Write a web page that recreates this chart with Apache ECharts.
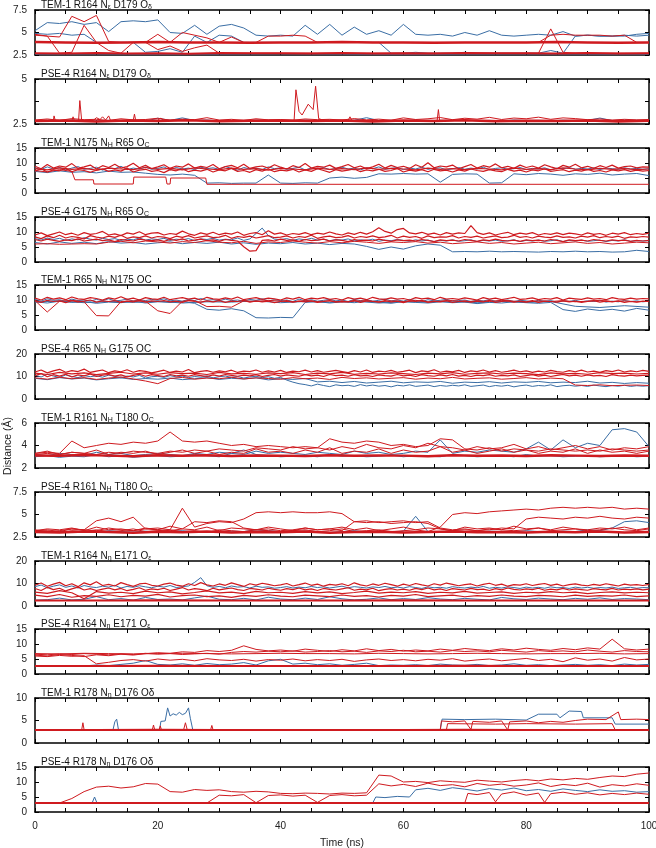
<!DOCTYPE html>
<html><head><meta charset="utf-8">
<script src="https://cdn.jsdelivr.net/npm/echarts@6/dist/echarts.min.js"></script>
<style>html,body{margin:0;padding:0;background:#fff}#c{width:656px;height:848px}</style>
</head><body><div id="c"></div>
<script>
// ---------- data (distances in Å; plain arrays are evenly sampled over 0–100 ns, pair arrays are [ns, Å]) ----------
const TIME_MAX = 100;
const X_LABELS = [0, 20, 40, 60, 80, 100];
const TITLES = [
  'TEM-1 R164 N{s|ε} D179 O{s|δ}', 'PSE-4 R164 N{s|ε} D179 O{s|δ}',
  'TEM-1 N175 N{s|H} R65 O{s|C}', 'PSE-4 G175 N{s|H} R65 O{s|C}',
  'TEM-1 R65 N{s|H} N175 OC', 'PSE-4 R65 N{s|H} G175 OC',
  'TEM-1 R161 N{s|H} T180 O{s|C}', 'PSE-4 R161 N{s|H} T180 O{s|C}',
  'TEM-1 R164 N{s|η} E171 O{s|ε}', 'PSE-4 R164 N{s|η} E171 O{s|ε}',
  'TEM-1 R178 N{s|η} D176 Oδ', 'PSE-4 R178 N{s|η} D176 Oδ'
];
const Y_MIN = [2.5, 2.5, 0, 0, 0, 0, 2, 2.5, 0, 0, 0, 0];
const Y_MAX = [7.5, 5, 15, 15, 15, 20, 6, 7.5, 20, 15, 10, 15];
const Y_TICK = [2.5, 1.25, 5, 5, 5, 10, 2, 2.5, 10, 5, 5, 5];
const Y_LABELS = [[2.5,5,7.5],[2.5,5],[0,5,10,15],[0,5,10,15],[0,5,10,15],[0,10,20],[2,4,6],[2.5,5,7.5],[0,10,20],[0,5,10,15],[0,5,10],[0,5,10,15]];

// panel 1
const p1_b1 = [5.2,6.1,6.0,6.2,5.9,6.1,5.1,6.2,6.3,6.2, 6.4,5.0,4.9,5.8,4.8,5.7,5.9,5.5,4.7,4.6, 4.7,4.6,5.8,4.8,5.9,4.7,5.6,4.8,5.2,4.7, 5.9,4.8,4.7,4.8,4.6,5.0,4.7,5.2,4.7,4.6, 4.7,4.8,4.7,5.1,4.6,4.7,4.6,4.6,4.6,4.8, 4.9];
const p1_b2 = [4.9,4.8,4.9,4.7,4.8,3.9,3.9,3.9,3.9,2.8, 2.9,3.2,2.8,4.6,3.9,4.7,4.6,3.9,3.9,3.9, 3.9,3.9,3.9,3.9,3.9,3.9,3.9,3.9,3.9,2.7, 2.7,2.8,2.7,2.7,2.7,2.8,2.7,2.7,2.7,2.7, 2.7,2.7,3.0,2.7,4.6,4.7,4.6,4.6,4.7,4.6, 4.7];
const p1_b3 = [2.6,2.62,2.58,2.6,2.63,2.6,2.57,2.6,2.62,2.6,2.59];
const p1_r1 = [3.95,3.9,3.85,3.9,3.95,3.9,3.9,3.85,3.9,3.9,3.95,3.9,3.9,3.85,3.9,3.9,3.9,3.95,3.9,3.85,3.9];
const p1_r2 = [2.7,2.66,2.72,2.68,2.7,2.65,2.71,2.69,2.7,2.66,2.72,2.68,2.7,2.67,2.71,2.69,2.7,2.66,2.72,2.68,2.7];
const p1_r3 = [4.8,4.6,4.5,6.8,6.2,6.9,4.0,3.9,3.9,3.9, 4.8,3.9,5.0,4.7,4.4,3.9,4.5,3.9,3.9,4.6, 4.6,4.7,4.6,3.9,3.9,3.9,3.9,3.9,3.9,3.9, 3.9,3.9,3.9,3.9,3.9,3.9,3.9,3.9,3.9,3.9, 3.9,3.9,4.7,4.8,4.7,4.7,4.7,4.6,4.7,3.9, 3.9];
const p1_r4 = [4.7,4.6,2.7,2.8,5.8,3.9,3.0,2.7,3.9,3.9, 3.1,3.5,2.9,3.3,3.6,2.7,2.7,2.7,2.7,2.7, 2.7,2.7,2.7,2.7,2.7,2.7,2.7,2.7,2.7,2.7, 2.7,2.7,2.7,2.7,2.7,2.7,2.7,2.7,2.7,2.7, 2.7,2.7,5.4,2.8,2.7,2.7,2.7,2.7,2.7,2.7, 2.7];
// panel 2
const p2_b1 = [2.68,2.7,2.66,2.72,2.69,2.67,2.7,2.68,2.71,2.66, 2.82,2.7,2.84,2.69,2.72,2.67,2.7,2.68,2.71,2.69, 2.7,2.67,2.72,2.68,2.7,2.66,2.71,2.85,2.69,2.7, 2.68,2.72,2.67,2.7,2.69,2.71,2.68,2.7,2.66,2.72, 2.69,2.7,2.67,2.71,2.68,2.7,2.83,2.69,2.72,2.7, 2.68];
const p2_r1 = [2.66,2.7,2.64,2.69,2.67,2.71,2.65,2.68,2.7,2.66,2.69,2.64,2.7,2.67,2.71,2.65,2.68,2.66,2.7,2.64,2.68];
const p2_r2 = [2.72,2.78,2.7,2.8,2.74,2.76,2.7,2.79,2.73,2.75, 2.82,2.71,2.77,2.74,2.85,2.72,2.76,2.7,2.79,2.73, 2.75,2.71,2.78,2.74,2.76,2.72,2.8,2.73,2.77,2.71, 2.84,2.75,2.79,2.86,2.74,2.82,2.77,2.87,2.75,2.83, 2.79,2.88,2.76,2.84,2.8,2.74,2.78,2.72,2.76,2.73, 2.75];
const p2_spikes = [[0,2.7],[3,2.7],[3.1,2.95],[3.3,2.7],[6,2.7],[6.2,2.9],[6.4,2.7],[7.1,2.7],[7.3,3.8],[7.6,2.7],[9.5,2.7],[10,2.85],[10.6,2.75],[11,2.9],[11.5,2.72],[12,2.95],[12.3,2.7],[16,2.7],[16.2,3.05],[16.4,2.7],[20,2.72],[20.5,2.82],[21,2.7],[42.2,2.7],[42.5,4.4],[43,3.2],[43.5,3.0],[44.5,3.6],[45.3,3.3],[45.7,4.6],[46.2,2.8],[47,2.7],[51,2.7],[51.3,2.9],[51.6,2.7],[65.5,2.7],[65.7,3.3],[65.9,2.7],[100,2.7]];
// panel 3
const p3_b1 = [8.4,7.8,8.7,8.0,8.5,7.7,8.3,8.8,7.9,8.2, 8.6,7.6,8.4,8.1,8.9,7.8,8.3,8.0,8.6,7.9, 8.2,8.7,7.7,8.5,8.0,8.3,7.8,8.6,8.1,8.4, 7.9,8.8,8.2,7.6,8.5,8.0,8.3,7.8,8.7,8.1, 8.4,7.9,8.2,8.6,7.7,8.3,8.0,8.5,7.8,8.2, 8.6,8.0,8.3,7.7,8.4,8.1,8.7,7.9,8.2,8.5, 7.8,8.3,8.0,8.6,7.9,8.2,8.4,7.7,8.1,8.5, 7.9,8.3,8.0,8.6,7.8,8.2,8.4,7.9,8.1,8.5, 7.8,8.2,8.0,8.4,7.7,8.3,8.1,8.5,7.9,8.2, 8.0,8.4,7.8,8.3,8.1,7.9,8.4,8.0,8.2,7.9, 8.1];
const p3_b2 = [7.2,6.8,7.4,6.9,7.1,6.7,7.3,6.9,7.0,6.6, 6.2,6.0,6.3,5.9,3.3,3.4,3.2,3.3,3.3,6.0, 3.3,3.2,3.4,3.3,5.0,5.3,4.9,5.2,6.4,6.3, 6.5,6.3,6.4,3.6,6.2,6.4,6.3,3.3,3.4,6.4, 6.1,6.5,6.3,5.9,6.4,6.2,6.6,6.0,6.3,6.5, 5.8];
const p3_r1 = [8.9,8.1,9.5,8.3,9.0,8.6,9.8,8.2,8.7,9.3, 8.0,9.1,8.5,9.6,8.3,8.8,9.9,8.4,9.2,8.1, 8.7,9.4,8.2,9.0,8.6,9.7,8.3,8.9,8.5,9.5, 8.1,8.8,9.2,8.4,9.6,8.2,8.7,9.0,8.3,9.4, 8.6,8.0,9.1,8.5,9.8,8.3,8.9,8.6,9.3,8.2, 8.8,9.5,8.4,9.0,8.1,8.7,9.6,8.3,9.2,8.5, 8.9,8.2,9.4,8.6,10.1,8.4,9.0,8.7,9.3,8.1, 8.8,9.5,8.3,9.1,8.6,9.7,8.4,8.9,8.2,9.3, 8.5,9.0,8.3,9.4,8.7,8.1,9.2,8.6,9.6,8.4, 8.9,8.2,9.1,8.5,9.3,8.3,8.8,9.0,8.4,8.7, 8.6];
const p3_r2 = [7.3,8.1,7.0,7.7,7.4,8.2,7.1,7.8,7.5,6.9, 7.6,8.0,7.2,7.7,7.3,8.3,7.0,7.6,7.9,7.2, 7.5,6.8,7.8,7.4,8.1,7.1,7.6,7.3,7.9,7.0, 7.7,7.4,8.2,7.2,7.5,6.9,7.8,7.3,8.0,7.1, 7.6,7.4,7.9,7.0,7.7,7.2,8.1,7.5,6.9,7.8, 7.3,7.6,8.0,7.1,7.7,7.4,7.9,7.2,7.5,8.2, 7.0,7.6,7.3,7.8,7.1,7.9,7.4,7.6,7.0,7.7, 7.3,8.0,7.5,7.2,7.8,7.4,7.1,7.9,7.3,7.6, 7.0,7.7,7.4,8.1,7.2,7.5,7.8,7.1,7.6,7.3, 7.9,7.2,7.5,7.0,7.7,7.4,7.8,7.2,7.6,7.3, 7.5];
const p3_r3 = [8.1,7.7,8.4,7.9,8.2,7.6,8.3,8.0,7.8,8.5, 7.9,8.2,7.7,8.4,8.0,7.8,8.3,7.9,8.1,7.6, 8.2,8.0,7.7,8.3,7.9,8.1,7.8,8.4,7.9,8.2, 8.0,7.7,8.3,7.9,8.1,7.8,8.2,8.0,7.7,8.3, 7.9,8.1,7.8,8.4,8.0,7.7,8.2,7.9,8.1,7.8, 8.0];
const p3_r_low = [[0,7.5],[2,7.0],[4,7.8],[6,7.2],[6.5,4.4],[9.5,4.4],[9.6,3.0],[16,3.0],[16.1,5.3],[21.3,5.3],[21.5,3.0],[22,3.0],[22.1,5.0],[27.8,5.0],[28,2.9],[100,2.9]];
// panel 4
const p4_b1 = [7.8,7.3,8.0,7.5,7.9,7.2,7.7,7.4,8.1,7.6, 7.3,7.9,7.5,7.8,7.2,7.6,7.4,8.0,7.3,7.7, 7.5,7.9,7.2,7.6,7.4,7.8,7.1,7.7,7.5,7.9, 7.3,7.6,7.4,8.0,7.2,7.7,9.5,11.3,8.8,7.6, 7.5,7.8,7.2,7.7,7.4,7.9,7.3,7.6,7.1,7.5, 7.3,7.7,7.0,7.4,7.2,7.6,6.9,7.3,7.1,7.5, 7.2,6.9,7.4,7.0,7.3,6.8,7.2,7.0,7.4,6.9, 7.1,7.4,6.8,7.2,7.0,7.3,6.9,7.1,7.4,6.8, 7.2,7.0,7.3,6.9,7.1,7.4,6.8,7.2,7.0,7.3, 6.9,7.1,7.3,6.8,7.2,7.0,7.4,6.9,7.1,7.0, 7.1];
const p4_b2 = [6.5,6.0,6.7,6.2,6.6,6.1,6.8,6.3,6.5,6.0, 6.4,6.7,6.1,6.5,6.2,6.6,6.0,6.4,5.9,6.3, 6.1,6.5,6.0,6.3,5.8,6.2,6.0,5.2,4.2,5.0, 4.3,5.4,6.0,5.6,3.4,3.5,3.4,3.6,3.4,3.5, 3.4,3.3,3.5,3.4,3.6,3.4,3.5,3.3,3.4,3.9, 3.5];
const p4_r1 = [9.0,9.7,8.8,9.4,10.0,9.1,9.6,8.9,9.8,9.2, 9.5,10.2,9.0,9.4,8.8,9.7,9.3,10.1,9.1,9.6, 9.8,9.0,9.5,9.2,10.3,9.4,8.9,9.7,9.2,9.9, 9.1,9.6,9.3,10.0,8.9,9.5,9.8,9.1,10.4,9.3, 9.7,9.0,9.5,9.2,9.8,9.1,9.6,9.3,10.0,9.4, 9.0,9.7,9.2,9.9,9.3,10.1,11.4,10.2,9.6,10.8, 11.2,9.7,9.4,9.9,9.2,9.6,9.0,9.8,9.3,9.7, 9.5,12.1,9.8,9.2,9.7,9.0,9.5,9.9,9.1,9.6, 9.3,9.8,9.0,9.5,9.2,9.7,9.1,9.6,9.4,9.0, 9.7,9.2,9.5,8.9,9.6,9.3,9.8,9.1,9.5,9.2, 9.6];
const p4_r2 = [8.4,7.8,8.7,8.1,8.9,8.0,8.5,8.2,7.7,8.8, 8.3,8.0,8.6,8.2,8.9,7.9,8.4,8.1,8.7,8.0, 8.5,8.3,7.8,8.6,8.2,8.8,8.0,8.4,8.7,8.1, 8.3,8.9,7.9,8.5,8.2,8.6,8.0,8.4,8.8,8.1, 8.3,8.7,8.0,8.5,8.2,8.9,7.9,8.4,8.6,8.1, 8.3,8.8,8.0,8.5,8.2,8.7,8.1,8.4,8.9,8.0, 8.6,8.2,8.5,7.9,8.7,8.1,8.4,8.3,8.8,8.0, 8.5,8.2,8.6,8.0,8.4,8.7,8.1,8.3,8.9,8.2, 8.5,8.0,8.6,8.3,8.1,8.7,8.2,8.4,8.0,8.6, 8.3,8.8,8.1,8.5,8.2,8.6,7.9,8.4,8.2,8.5, 8.3];
const p4_r3 = [7.5,7.0,7.6,7.2,6.9,7.4,7.1,7.7,7.0,7.3, 7.6,7.1,7.4,6.8,7.5,7.2,7.0,7.6,7.3,7.1, 7.4,6.9,7.5,7.2,7.7,7.0,7.3,7.6,7.1,7.4, 6.9,7.5,7.2,7.0,5.1,3.6,3.8,7.2,7.4,7.0, 7.6,7.2,7.4,6.9,7.5,7.1,7.3,7.6,7.0,7.4, 7.2,6.8,7.5,7.1,7.3,7.0,7.6,7.2,6.9,7.4, 7.1,7.3,7.0,7.5,7.2,6.8,7.4,7.1,7.3,7.0, 7.5,7.2,6.9,7.4,7.1,7.6,7.2,7.0,7.3,6.9, 7.4,7.1,7.3,7.0,7.5,7.2,6.8,7.4,7.1,7.3, 7.0,7.5,7.2,7.0,7.4,7.1,7.3,6.9,7.2,7.0, 7.2];
const p4_r4 = [6.0,6.1,5.9,6.0,6.1,6.0,6.6,6.9,6.4,7.0, 6.7,6.3,6.8,6.5,7.1,6.6,6.4,6.9,6.2,6.7, 6.5,7.0,6.6,6.3,6.8,6.4,6.9,6.6,6.2,6.7, 6.5,6.8,6.3,6.6,6.1,6.4,6.7,6.2,6.5,6.0, 6.3,6.6,6.1,6.4,6.7,6.2,6.5,6.0,6.3,6.6, 6.4];
// panel 5
const p5_b1 = [10.2,9.6,10.4,9.9,10.1,9.5,10.3,9.8,10.0,9.6, 10.2,9.8,10.4,9.7,9.9,10.3,9.6,10.1,9.8,10.2, 9.9,10.4,9.7,10.0,9.6,10.2,9.8,10.5,9.9,10.1, 9.7,10.3,9.8,10.0,9.6,10.2,9.9,10.4,9.7,10.1, 9.8,10.0,9.5,10.3,9.7,10.1,9.6,9.9,10.2,9.7, 10.0,9.5,10.2,9.8,10.1,9.6,9.9,10.3,9.7,10.0, 9.6,10.2,9.8,9.5,10.1,9.7,9.9,10.2,9.6,9.8, 10.0,9.5,9.9,9.7,10.1,9.6,9.8,10.0,9.5,9.9, 9.7,9.4,9.9,9.6,9.8,9.3,9.7,9.5,9.9,9.4, 9.7,9.5,9.8,9.3,9.6,9.4,9.8,9.5,9.7,9.4, 9.6];
const p5_b2 = [9.4,9.0,9.6,9.2,9.5,8.9,9.3,9.1,9.6,9.0, 9.4,9.2,9.5,8.9,6.9,6.6,7.1,6.4,4.1,4.0, 4.2,4.1,9.2,9.5,9.0,9.4,9.1,9.6,9.3,8.9, 9.5,9.2,9.0,9.4,9.1,9.3,8.8,9.2,9.0,9.4, 9.1,8.9,9.2,6.8,6.2,7.0,6.5,6.9,6.3,7.2, 6.6];
const p5_b3 = [9.3,9.7,9.1,9.5,9.2,9.6,9.0,9.4,9.3,9.7,9.1,9.5,9.2,9.6,9.0,9.4,9.3,9.7,9.1,9.5,9.2,9.5,7.9,7.5,8.1,7.6];
const p5_r1 = [10.6,10.0,10.9,10.3,10.7,10.1,11.0,10.4,10.2,10.8, 10.5,10.0,10.7,10.3,11.1,10.2,10.6,10.0,10.8,10.4, 10.2,10.9,10.1,10.5,10.8,10.3,10.6,10.0,10.9,10.4, 10.2,10.7,10.3,11.0,10.1,10.5,10.8,10.2,10.6,10.4, 10.0,10.7,10.3,10.9,10.1,10.6,10.4,10.8,10.2,10.5, 10.0,10.8,10.3,10.6,10.1,10.9,10.4,10.2,10.7,10.3, 10.5,10.0,10.8,10.4,10.6,10.1,10.9,10.3,10.5,10.2, 10.7,10.4,10.0,10.8,10.3,10.6,10.1,10.5,10.9,10.2, 10.4,10.7,10.1,10.5,10.3,10.8,10.0,10.6,10.4,10.2, 10.7,10.3,10.5,10.1,10.8,10.4,10.2,10.6,10.3,10.5, 10.4];
const p5_r2 = [9.8,9.2,9.9,9.5,9.7,9.1,9.8,9.4,9.6,10.0, 9.3,9.7,9.5,9.8,9.2,9.6,9.4,9.9,9.3,9.7, 9.5,9.8,9.4,9.6,9.2,9.9,9.5,9.3,9.7,9.4, 9.8,9.2,9.6,9.5,9.9,9.3,9.7,9.4,9.6,9.1, 9.5,9.8,9.3,9.6,9.4,9.7,9.2,9.5,9.8,9.3, 9.6,9.4,9.9,9.2,9.7,9.5,9.3,9.8,9.4,9.6, 9.1,9.7,9.5,9.9,9.3,9.6,9.4,9.8,9.2,9.5, 9.7,9.3,9.6,9.4,9.9,9.2,9.5,9.7,9.3,9.6, 9.4,9.8,9.2,9.6,9.5,9.3,9.7,9.4,9.6,9.2, 9.5,9.8,9.3,9.6,9.4,9.7,9.2,9.5,9.3,9.6, 9.5];
const p5_r_low = [9.8,6.0,9.6,9.9,9.4,4.8,4.7,9.5,9.7,9.6, 6.4,5.5,9.6,9.8,7.8,7.9,7.6,9.7,9.5,9.9, 9.6,9.4,9.8,9.5,9.7,9.3,9.6,9.8,9.4,9.7, 9.5,9.9,9.3,9.6,9.8,9.4,9.7,9.5,9.9,9.6, 9.3,9.7,9.5,9.8,9.4,9.6,9.9,9.5,9.7,9.4, 9.6];
// panel 6
const p6_b1 = [10.5,9.8,11.0,10.2,9.6,10.7,10.0,9.5,10.4,9.9, 10.3,9.7,10.6,10.1,9.4,10.2,9.8,10.5,9.3,9.9, 10.1,9.6,10.4,9.8,10.2,9.5,10.0,9.7,10.3,9.4, 9.9,10.2,9.6,10.0,9.3,9.8,10.1,9.5,9.9,9.2, 9.6,8.4,7.5,6.8,6.4,5.8,6.6,6.0,5.5,6.3, 5.9,6.1,5.6,6.4,5.8,6.2,5.7,6.0,5.4,6.1, 5.8,6.3,5.6,5.9,6.2,5.5,6.0,5.7,6.1,5.8, 6.3,5.6,5.9,6.2,5.5,6.0,5.7,6.1,5.4,5.9, 6.2,5.6,6.0,5.8,6.3,5.5,5.9,6.1,5.7,6.0, 5.6,6.2,5.8,5.5,6.0,5.7,6.1,5.6,5.9,5.7, 5.9];
const p6_b2 = [9.2,8.6,9.5,8.9,9.3,8.5,9.0,9.4,8.7,9.1, 8.8,9.3,8.6,9.0,9.5,8.7,9.2,8.9,9.4,8.5, 9.0,8.7,9.1,7.6,7.9,7.3,7.8,7.1,7.5,7.9, 7.2,7.6,7.4,7.8,7.0,7.5,7.3,7.7,7.1,7.6, 7.4,7.8,7.2,7.5,7.3,7.9,7.1,7.4,6.9,7.3, 7.0];
const p6_r1 = [12.0,12.9,11.6,12.5,13.2,11.9,12.6,12.2,13.3,11.8, 12.4,12.9,11.7,12.5,12.1,13.0,11.9,12.6,12.3,11.6, 12.2,12.8,11.8,12.4,12.0,13.1,11.7,12.3,12.6,11.9, 12.5,12.1,12.8,11.8,12.4,12.2,12.9,11.9,12.5,12.0, 12.7,11.8,12.4,12.1,12.8,12.0,12.6,11.9,12.3,12.7, 12.2,11.7,12.6,12.0,12.9,11.8,12.4,12.1,12.7,11.9, 12.3,12.8,11.7,12.5,12.2,13.0,11.9,12.4,12.1,12.7, 11.8,12.5,12.2,12.9,12.0,12.6,11.9,12.3,12.8,12.1, 12.5,11.8,12.4,12.0,12.7,12.2,11.9,12.6,12.1,12.8, 12.0,12.4,11.8,12.6,12.2,12.9,12.0,12.5,12.1,12.7, 12.3];
const p6_r2 = [10.4,11.3,9.9,10.8,10.2,11.0,9.8,10.7,10.3,11.1, 10.0,10.6,10.9,10.2,10.7,9.9,10.5,11.0,10.1,10.8, 10.4,10.0,10.9,10.3,10.6,10.1,10.8,10.4,10.0,10.7, 10.2,10.9,10.5,10.1,10.6,10.3,10.8,10.0,10.5,10.9, 10.2,10.7,10.4,10.1,10.8,10.3,10.6,10.0,10.9,10.4, 10.6,10.1,10.8,10.3,10.5,10.0,10.7,10.4,10.2,10.9, 10.3,10.6,10.0,10.8,10.4,10.1,10.7,10.3,10.9,10.2, 10.5,10.0,10.6,10.4,10.8,10.1,10.5,10.3,10.7,10.0, 10.4,10.8,10.2,10.6,10.0,10.5,10.9,10.3,10.6,10.1, 10.7,10.3,10.5,10.0,10.8,10.4,10.2,10.6,10.3,10.5, 10.6];
const p6_r3 = [9.4,8.8,9.7,9.0,9.5,8.7,9.3,9.8,8.9,8.0, 6.8,9.1,9.6,8.8,9.3,9.0,9.7,8.9,9.4,9.1, 8.8,9.5,9.0,9.3,8.7,9.6,9.1,9.4,8.9,9.2, 9.5,8.8,9.3,9.0,9.6,8.9,9.2,9.4,8.8,9.1, 9.5,8.9,9.3,9.0,6.2,6.0,6.3,5.9,6.1,6.2, 6.0];
const p6_r4 = [11.5,10.9,11.8,11.2,11.6,10.8,11.4,11.9,11.1,11.6, 11.0,11.7,11.3,11.5,10.9,11.8,11.2,11.4,11.0,11.6, 11.3,11.7,10.9,11.5,11.2,11.8,11.0,11.4,11.1,11.6, 11.3,10.9,11.5,11.2,11.7,11.0,11.4,11.6,11.1,11.5, 11.3,10.8,11.6,11.2,11.4,11.0,11.7,11.3,11.5,11.1, 11.4];
// panel 7
const p7_b1 = [3.0,3.1,2.95,3.05,3.0,3.2,3.0,3.1,2.95,3.05, 3.1,3.0,3.05,3.2,3.1,3.0,3.3,3.6,3.2,3.1, 3.0,3.05,3.1,3.0,3.2,3.05,3.1,3.0,3.05,3.15, 3.0,3.1,3.05,3.0,3.2,3.1,3.0,3.05,3.1,3.0, 3.2,3.05,3.1,3.0,3.05,3.1,3.0,3.05,3.1,3.0, 3.05];
const p7_b2 = [3.2,3.1,3.3,3.2,3.1,3.4,3.2,3.3,3.1,3.2, 3.3,3.2,3.1,3.3,3.2,3.4,3.3,3.2,3.5,3.3, 3.4,3.3,3.2,3.4,3.3,3.2,3.5,3.3,3.4,3.2, 3.3,3.5,3.4,4.5,3.3,3.5,3.4,3.6,3.5,3.4, 3.7,4.3,3.6,4.5,3.8,4.2,4.0,5.4,5.5,5.2, 3.9];
const p7_r_base = [3.12,3.08,3.15,3.1,3.05,3.13,3.09,3.14,3.07,3.11,3.1,3.06,3.13,3.08,3.12,3.1,3.05,3.14,3.09,3.11,3.07,3.13,3.1,3.06,3.12,3.09];
const p7_r2 = [3.3,3.5,3.2,3.4,3.3,3.6,3.2,3.4,3.3,3.5, 3.2,3.4,3.6,3.3,3.5,3.2,3.4,3.3,3.7,3.4, 3.5,3.3,3.6,3.4,3.8,3.3,3.5,3.4,3.7,3.3, 3.6,3.4,3.5,3.9,3.4,3.6,3.3,3.5,3.7,3.4, 3.6,3.3,3.5,3.4,3.7,3.3,3.6,3.4,3.5,3.3, 3.5];
const p7_r3 = [3.2,3.3,3.2,3.4,3.3,3.2,3.4,3.3,3.5,3.4, 3.3,3.5,3.4,3.6,3.5,3.7,3.6,3.5,3.8,3.7, 3.6,3.9,3.7,3.8,3.6,3.9,3.7,4.1,3.8,3.7, 4.0,3.8,4.2,3.9,3.8,3.6,3.9,3.7,3.8,4.1, 3.7,3.9,3.6,3.8,4.0,3.7,3.9,3.6,3.8,3.7, 3.9];
const p7_r_up = [3.3,3.4,3.3,4.4,3.8,4.0,4.2,4.1,4.3,4.2, 4.4,5.2,4.4,4.3,4.4,4.2,4.0,4.1,3.9,4.0, 3.9,3.8,3.9,3.8,4.6,4.3,4.2,4.4,4.3,4.0, 4.1,3.9,4.0,4.6,4.5,3.7,3.6,3.8,3.5,3.7, 3.6,3.5,3.7,3.6,3.5,3.6,3.5,3.7,3.6,3.5, 3.6];
// panel 8
const p8_b1 = [3.1,3.0,3.15,3.05,3.1,3.0,3.2,3.1,3.05,3.15, 3.0,3.1,3.2,3.05,3.1,3.0,3.15,3.1,3.3,3.2, 3.1,3.05,3.15,3.1,3.0,3.1,3.2,3.05,3.1,3.0, 3.15,4.8,3.1,3.05,3.2,3.1,3.0,3.15,3.1,3.05, 3.2,3.1,3.0,3.15,3.1,3.3,3.2,3.5,4.2,4.3, 4.1];
const p8_r_base = [3.05,3.0,3.1,3.05,2.98,3.08,3.02,3.1,3.0,3.06,3.03,3.1,2.98,3.05,3.08,3.0,3.06,3.1,3.02,3.05,3.0,3.08,3.04,3.1,3.0,3.06];
const p8_r2 = [3.2,3.4,3.3,3.5,3.2,3.6,3.3,3.4,3.2,3.5, 3.3,3.7,3.4,3.3,3.6,3.2,3.5,3.4,3.3,3.6, 3.4,3.2,3.5,3.3,3.4,3.6,3.3,3.5,3.2,3.4, 3.6,3.3,3.5,3.4,3.2,3.6,3.4,3.5,3.3,3.7, 3.4,3.5,3.3,3.6,3.4,3.3,3.5,3.4,3.6,3.3, 3.5];
const p8_rA = [3.2,3.3,3.1,3.4,3.3,4.3,4.6,4.2,4.7,3.4, 3.5,3.3,5.7,3.6,4.0,4.2,4.1,4.5,5.2,5.3, 5.2,5.3,5.2,5.2,5.3,5.1,4.2,4.1,4.2,4.0, 4.1,4.2,4.0,3.4,3.2,3.3,3.2,3.4,3.3,3.2, 3.3,3.5,3.2,3.3,3.4,3.2,3.3,3.5,3.3,3.2, 3.4];
const p8_rB = [3.1,3.2,3.0,3.2,3.1,3.3,3.1,3.2,3.4,3.1, 3.2,3.3,3.1,3.2,3.0,3.3,3.2,3.1,3.3,3.2, 3.1,3.2,3.3,3.1,3.2,3.4,3.1,3.2,3.3,3.1, 3.2,3.3,3.1,3.6,5.0,5.2,5.1,5.3,5.4,5.5, 5.6,5.5,5.7,5.8,5.7,5.8,5.7,5.8,5.6,5.7, 5.6];
const p8_rC = [3.3,3.1,3.2,3.4,3.3,3.2,3.5,3.3,3.2,3.4, 3.3,3.2,3.4,4.2,4.1,4.3,4.2,3.5,3.3,3.4, 3.2,3.3,3.5,3.3,3.4,3.2,4.2,4.3,4.1,4.2, 4.3,4.1,4.2,3.5,3.3,3.4,3.2,3.3,3.5,3.4, 4.5,4.7,4.6,4.5,4.7,4.6,4.8,4.6,4.5,4.7, 4.6];
// panel 9
const p9_b1 = [8.6,9.3,8.1,8.8,9.4,8.3,8.9,8.0,9.1,8.5, 8.2,8.8,8.4,9.2,8.0,8.7,8.3,9.0,8.5,8.1, 8.8,8.4,9.1,8.2,8.6,8.9,10.5,12.6,9.0,8.3, 8.7,8.1,8.9,8.4,8.6,8.0,8.8,8.3,8.5,7.9, 8.2,8.6,8.0,8.4,8.1,8.7,8.2,8.5,8.0,8.4, 8.8,8.1,8.6,8.3,8.0,8.5,8.2,8.7,8.1,8.4, 8.0,8.6,8.2,7.8,8.5,8.1,8.3,7.9,8.6,8.2, 8.0,8.4,8.1,8.7,7.9,8.3,8.0,8.5,8.2,7.8, 8.4,8.0,8.3,7.9,8.5,8.1,8.2,7.8,8.4,8.0, 8.3,7.9,8.2,8.0,8.4,7.8,8.1,8.3,7.9,8.2, 8.1];
const p9_b2 = [2.6,2.8,3.5,2.7,3.0,4.2,2.8,3.3,2.6,3.8, 2.9,3.1,2.7,3.6,4.4,3.0,2.8,3.4,2.7,3.9, 3.1,2.8,3.5,2.9,4.1,3.2,2.7,3.0,3.6,2.8, 3.3,2.9,3.7,3.1,2.8,3.4,3.0,2.7,3.8,3.2, 2.9,3.5,3.1,2.8,3.4,3.0,3.6,2.9,3.3,3.1, 2.8];
const p9_r_flat = [2.5,2.5,2.6,2.5,2.5,2.5,2.6,2.5,2.5,2.5,2.5];
const p9_r1 = [9.2,10.2,8.8,9.7,10.5,9.0,9.9,8.6,10.3,9.4, 10.8,9.1,9.6,8.9,10.4,9.5,8.7,9.8,10.1,9.2, 8.9,9.7,10.2,9.3,8.8,9.9,9.1,10.4,9.4,8.9, 9.8,9.2,10.3,9.5,8.7,9.9,9.3,10.1,9.6,9.0, 9.4,10.0,8.9,9.5,10.2,9.2,9.7,8.8,9.6,9.3, 9.9,9.0,10.3,9.4,8.9,9.8,9.2,10.1,9.5,8.8, 9.7,9.1,10.0,9.4,8.9,9.9,9.3,10.2,9.6,9.0, 9.5,9.8,8.9,9.6,10.1,9.2,9.7,8.8,9.5,9.3, 9.9,9.1,9.6,10.0,9.2,9.7,8.9,9.5,9.8,9.3, 9.0,9.6,9.2,9.9,9.4,8.9,9.7,9.3,9.5,9.1, 9.6];
const p9_r2 = [7.8,6.9,8.3,7.3,7.9,6.7,7.6,8.4,7.1,7.7, 6.9,7.5,8.0,7.2,7.8,6.8,7.4,8.1,7.0,7.6, 7.3,7.9,6.9,7.5,8.2,7.1,7.7,7.4,6.8,7.9, 7.2,7.6,8.0,7.3,6.9,7.8,7.5,7.1,7.9,7.4, 7.0,7.7,7.3,8.0,7.2,7.6,6.9,7.8,7.4,7.1, 7.6,8.1,7.0,7.5,7.2,7.9,6.8,7.4,7.7,7.1, 7.5,7.0,7.8,7.3,8.0,7.2,7.6,6.9,7.7,7.4, 7.1,7.8,7.3,7.5,6.9,7.7,7.2,8.0,7.4,7.1, 7.6,7.3,7.9,7.0,7.5,7.2,7.8,7.1,7.6,7.3, 7.0,7.7,7.4,7.2,7.8,7.1,7.5,7.3,7.6,7.2, 7.5];
const p9_r3 = [6.2,5.6,6.8,5.9,3.2,6.4,5.7,6.1,5.5,6.6, 5.9,6.3,5.4,6.0,6.7,5.8,6.2,5.5,6.5,5.9, 6.1,5.6,6.4,5.8,6.3,5.5,6.0,6.6,5.7,6.2, 5.9,6.4,5.6,6.1,5.8,6.5,5.7,6.0,6.3,5.6, 6.1,5.8,6.4,5.9,6.2,5.5,6.0,6.3,5.8,6.1, 5.9];
const p9_r4 = [4.8,4.2,5.1,3.9,4.6,4.3,5.0,4.1,4.7,4.4, 5.2,4.0,4.6,4.9,4.2,4.5,3.8,4.7,4.3,5.0, 4.4,4.1,4.8,4.5,4.2,4.9,4.3,4.6,4.0,4.7, 4.4,5.1,4.2,4.5,4.8,4.1,4.6,4.3,4.9,4.4, 4.2,4.7,4.5,4.1,4.8,4.3,4.6,4.4,4.9,4.2, 4.5];
// panel 10
const p10_b1 = [2.7,2.7,2.8,2.7,2.7,3.0,2.8,3.2,3.6,4.5, 3.2,3.0,3.4,2.9,3.5,3.1,3.3,3.8,3.0,4.4, 4.9,3.3,3.6,3.1,3.4,2.9,3.2,3.6,2.8,3.0, 2.9,3.1,2.8,3.3,3.0,2.9,3.2,2.8,3.0,3.4, 2.9,3.1,2.8,3.0,3.2,2.9,3.1,2.8,3.3,3.0, 3.2];
const p10_r_flat = [2.7,2.7,2.72,2.7,2.68,2.7,2.7,2.72,2.7,2.68,2.7];
const p10_rA = [6.8,6.7,6.9,6.8,6.7,6.8,6.9,6.8,6.7,6.8,6.9,6.8,6.8,6.7,6.9,6.8,6.7,6.8,6.9,6.8,6.7,6.8,6.8,6.9,6.7,6.8];
const p10_rB = [6.3,6.0,6.5,6.2,5.8,6.4,6.1,6.6,6.3,6.8, 7.1,6.9,7.4,7.2,7.8,7.5,7.9,9.4,8.2,7.7, 8.0,7.6,8.3,7.9,7.5,8.1,7.7,8.4,7.8,8.2, 7.6,8.0,7.7,8.3,7.9,8.5,8.1,7.8,8.4,8.0, 8.6,8.2,7.9,8.5,8.1,8.7,8.3,11.6,8.4,8.0, 8.3];
const p10_rC = [6.0,5.8,6.2,5.9,6.1,3.4,3.9,4.5,4.8,4.3, 5.0,4.6,4.9,4.4,5.1,4.7,4.5,4.9,4.3,4.8, 4.6,5.0,4.4,4.8,4.5,4.9,4.2,4.7,5.0,4.5, 4.8,4.4,4.9,4.6,5.1,4.3,4.7,5.0,4.4,4.8, 5.2,4.5,4.9,4.1,5.4,4.6,5.0,4.3,5.5,4.7, 5.0];
const p10_rD = [6.6,6.4,6.7,6.5,6.8,6.6,6.4,6.7,6.5,6.9, 6.6,6.8,6.5,6.7,6.9,6.6,7.2,7.5,7.3,7.6, 7.4,7.7,7.3,7.5,7.8,7.4,7.6,7.2,7.7,7.5, 7.9,7.4,7.6,7.3,7.8,7.5,7.7,7.4,7.9,7.6, 7.3,7.8,7.5,7.7,7.4,8.0,7.6,7.3,7.8,7.5, 7.4];
// panel 11
const p11_b = [[0,2.9],[12.7,2.9],[13,4.7],[13.3,5.3],[13.6,2.9],[20.3,2.9],[20.5,4.8],[21.2,4.9],[21.6,7.8],[22,6.0],[22.5,6.5],[23,6.2],[23.5,6.8],[24,6.3],[24.5,6.6],[25,7.8],[25.3,5.5],[25.7,2.9],[66,2.9],[66.3,5.3],[70,5.2],[75,5.3],[80,5.1],[82,6.4],[85,6.4],[85.5,5.6],[87,7.1],[89,7.0],[89.3,5.6],[94,5.6],[94.5,4.2],[100,4.2]];
const p11_r_flat = [2.9,2.9,2.92,2.9,2.88,2.9,2.9,2.92,2.9,2.88,2.9];
const p11_r_spikes = [[0,2.9],[7.6,2.9],[7.8,4.5],[8.0,2.9],[19.1,2.9],[19.3,4.0],[19.5,2.9],[20.2,2.9],[20.4,3.8],[20.6,2.9],[24.2,2.9],[24.5,4.5],[24.8,2.9],[28.6,2.9],[28.8,3.9],[29,2.9],[100,2.9]];
const p11_r_late = [[0,2.9],[66,2.9],[66.2,4.9],[68,4.7],[70,4.9],[71,3.0],[71.3,4.8],[74,4.6],[76,4.9],[77,2.9],[77.3,4.7],[80,4.9],[82,4.5],[84,4.8],[86,4.6],[88,5.0],[90,5.3],[93,5.2],[95,6.9],[95.4,5.2],[98,5.3],[100,5.2]];
const p11_r_late2 = [[0,2.9],[67,2.9],[67.2,4.3],[75,4.2],[80,4.3],[88,4.2],[94,4.3],[94.5,2.9],[100,2.9]];
// panel 12
const p12_b1 = [[0,3],[9.3,3],[9.7,5.0],[10.1,3],[55,3],[55.5,5.0],[57,4.8],[59,5.2],[61,5.0],[62,7.4],[64,7.9],[66,7.2],[68,8.1],[70,7.6],[72,7.0],[74,7.8],[76,7.3],[78,8.0],[80,7.1],[82,7.5],[84,6.9],[86,7.7],[88,7.2],[90,6.8],[92,7.4],[94,6.9],[96,7.1],[98,6.6],[100,6.8]];
const p12_r_flat = [3.0,3.0,3.02,3.0,2.98,3.0,3.0,3.02,3.0,2.98,3.0];
const p12_rA = [3.0,3.0,3.0,4.5,6.8,8.3,8.6,8.0,8.4,9.5, 9.3,6.8,6.6,7.5,7.2,7.4,6.8,6.6,6.9,6.7, 6.2,6.1,6.3,6.2,6.0,6.3,6.2,6.4,12.3,12.0, 10.0,10.2,9.8,10.4,10.1,9.9,10.6,10.3,10.0,10.5, 10.8,10.4,11.0,10.7,11.2,10.9,11.5,12.0,11.8,12.6, 13.0];
const p12_rB = [3.0,3.0,3.0,3.0,3.0,3.0,3.0,3.0,3.0,3.0, 3.0,3.0,3.0,3.0,3.0,5.6,5.4,5.8,3.1,5.5, 5.7,5.3,5.6,3.2,5.5,5.8,5.4,5.6,9.4,8.7, 9.2,8.5,9.6,8.8,9.1,8.4,9.5,8.9,9.3,8.6, 9.0,9.7,8.5,9.2,8.8,9.6,8.3,9.1,8.7,9.4, 8.9];
const p12_rC = [[0,3],[70,3],[70.5,6.2],[72,5.8],[74,6.5],[75,3.4],[76,6.0],[78,6.7],[80,5.6],[82,6.3],[83,3.2],[84,6.1],[86,6.6],[88,5.9],[90,6.4],[92,5.7],[94,6.2],[96,5.8],[98,6.3],[100,5.9]];

// ---------- which arrays go in which panel ('b' blue / 'r' red, optional line width) ----------
const PANEL_SERIES = [
  [[p1_b1,'b'],[p1_b2,'b'],[p1_b3,'b'],[p1_r3,'r'],[p1_r4,'r'],[p1_r1,'r',2.5],[p1_r2,'r',2]],
  [[p2_b1,'b'],[p2_r2,'r'],[p2_spikes,'r'],[p2_r1,'r',2.5]],
  [[p3_b1,'b'],[p3_b2,'b'],[p3_r_low,'r'],[p3_r1,'r',1.2],[p3_r2,'r',1.2],[p3_r3,'r',1.2]],
  [[p4_b1,'b'],[p4_b2,'b'],[p4_r1,'r',1.2],[p4_r2,'r',1.2],[p4_r3,'r',1.2],[p4_r4,'r']],
  [[p5_b1,'b'],[p5_b2,'b'],[p5_b3,'b'],[p5_r1,'r',1.2],[p5_r2,'r',1.2],[p5_r_low,'r']],
  [[p6_b1,'b'],[p6_b2,'b'],[p6_r1,'r',1.2],[p6_r2,'r',1.2],[p6_r3,'r'],[p6_r4,'r',1.2]],
  [[p7_b1,'b'],[p7_b2,'b'],[p7_r2,'r'],[p7_r3,'r'],[p7_r_up,'r'],[p7_r_base,'r',2.5]],
  [[p8_b1,'b'],[p8_r2,'r'],[p8_rA,'r'],[p8_rB,'r'],[p8_rC,'r'],[p8_r_base,'r',2.5]],
  [[p9_b1,'b'],[p9_b2,'b'],[p9_r1,'r',1.2],[p9_r2,'r',1.2],[p9_r3,'r',1.2],[p9_r4,'r',1.2],[p9_r_flat,'r',2]],
  [[p10_b1,'b'],[p10_rA,'r'],[p10_rB,'r'],[p10_rC,'r'],[p10_rD,'r'],[p10_r_flat,'r',2]],
  [[p11_b,'b'],[p11_r_spikes,'r'],[p11_r_late,'r'],[p11_r_late2,'r'],[p11_r_flat,'r',2]],
  [[p12_b1,'b'],[p12_rA,'r'],[p12_rB,'r'],[p12_rC,'r'],[p12_r_flat,'r',2]]
];

// ---------- layout / style ----------
const GRID_TOP = [10, 79, 148, 217, 285, 354, 423, 492, 561, 629, 698, 767];
const GRID_H = 45;
const RED = '#cf1a1f', BLUE = '#3a6ea5';
const FONT = '"Liberation Sans", Arial, Helvetica, sans-serif';

function toXY(arr) {
  if (Array.isArray(arr[0])) return arr;
  const n = arr.length;
  return arr.map((v, i) => [i * TIME_MAX / (n - 1), v]);
}

const grids = [], xAxes = [], yAxes = [], series = [], titles = [];
GRID_TOP.forEach((top, i) => {
  grids.push({left: 35, right: 7, top: top, height: GRID_H, outerBoundsMode: 'none', containLabel: false});
  const frame = {show: true, onZero: false, lineStyle: {color: '#000', width: 1.5}};
  const tick = {show: true, inside: true, length: 4, lineStyle: {color: '#000', width: 1}};
  const last = i === GRID_TOP.length - 1;
  xAxes.push({gridIndex: i, type: 'value', min: 0, max: TIME_MAX, interval: 5, position: 'bottom',
    axisLine: frame, axisTick: tick, splitLine: {show: false},
    axisLabel: {show: last, margin: 9, color: '#222', fontSize: 10, fontFamily: FONT,
      formatter: v => X_LABELS.includes(v) ? String(v) : ''},
    name: last ? 'Time (ns)' : '', nameLocation: 'middle', nameGap: 26,
    nameTextStyle: {color: '#222', fontSize: 10.5, fontFamily: FONT}});
  xAxes.push({gridIndex: i, type: 'value', min: 0, max: TIME_MAX, interval: 5, position: 'top',
    axisLine: frame, axisTick: tick, splitLine: {show: false}, axisLabel: {show: false}});
  const labs = Y_LABELS[i];
  yAxes.push({gridIndex: i, type: 'value', min: Y_MIN[i], max: Y_MAX[i], interval: Y_TICK[i], position: 'left',
    axisLine: frame, axisTick: tick, splitLine: {show: false},
    axisLabel: {margin: 8, color: '#222', fontSize: 10, fontFamily: FONT,
      formatter: v => labs.includes(v) ? String(v) : ''}});
  yAxes.push({gridIndex: i, type: 'value', min: Y_MIN[i], max: Y_MAX[i], interval: Y_TICK[i], position: 'right',
    axisLine: frame, axisTick: tick, splitLine: {show: false}, axisLabel: {show: false}});
  titles.push({text: TITLES[i], left: 41, top: top - 10, padding: 0,
    textStyle: {fontSize: 10, fontWeight: 'normal', color: '#111', fontFamily: FONT,
      rich: {s: {fontSize: 7, fontFamily: FONT, color: '#111', verticalAlign: 'bottom', padding: [4, 0, 0, 0]}}}});
  PANEL_SERIES[i].forEach(([arr, c, w]) => {
    series.push({type: 'line', xAxisIndex: 2 * i, yAxisIndex: 2 * i, data: toXY(arr),
      showSymbol: false, symbol: 'none', silent: true, clip: true,
      lineStyle: {color: c === 'r' ? RED : BLUE, width: w || 1}});
  });
});

const chart = echarts.init(document.getElementById('c'), null, {renderer: 'canvas'});
chart.setOption({
  animation: false,
  backgroundColor: '#fff',
  title: titles,
  grid: grids,
  xAxis: xAxes,
  yAxis: yAxes,
  series: series,
  graphic: [{type: 'text', x: 8, y: 446, rotation: Math.PI / 2,
    style: {text: 'Distance (Å)', fill: '#222', font: '10.5px ' + FONT,
      textAlign: 'center', textVerticalAlign: 'middle', align: 'center', verticalAlign: 'middle'}}]
});
</script></body></html>
